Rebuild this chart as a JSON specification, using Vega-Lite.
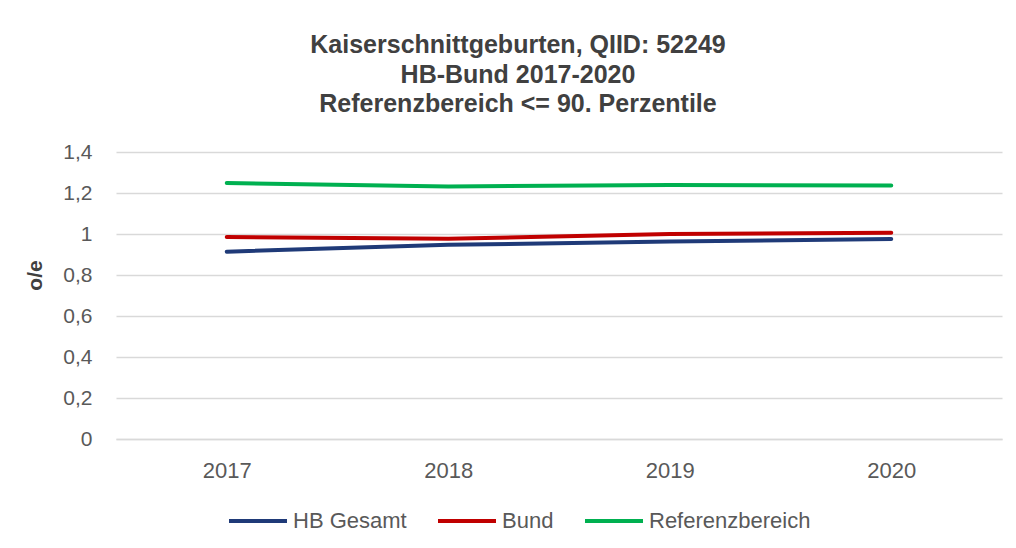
{
  "$schema": "https://vega.github.io/schema/vega-lite/v6.json",
  "autosize": {"type": "none"},
  "padding": {"left": 116, "top": 152, "right": 14, "bottom": 109},
  "width": 886,
  "height": 287,
  "background": "white",
  "config": {"view": {"stroke": null}},
  "title": {
    "text": ["Kaiserschnittgeburten, QIID: 52249", "HB-Bund 2017-2020", "Referenzbereich <= 90. Perzentile"],
    "font": "Liberation Sans",
    "fontSize": 25,
    "fontWeight": "bold",
    "color": "#404040",
    "lineHeight": 29.5,
    "anchor": "middle",
    "dx": -41,
    "offset": 24
  },
  "data": {
    "values": [
      {"year": "2017", "series": "HB Gesamt", "value": 0.914},
      {"year": "2018", "series": "HB Gesamt", "value": 0.947},
      {"year": "2019", "series": "HB Gesamt", "value": 0.963},
      {"year": "2020", "series": "HB Gesamt", "value": 0.976},
      {"year": "2017", "series": "Bund", "value": 0.985},
      {"year": "2018", "series": "Bund", "value": 0.977},
      {"year": "2019", "series": "Bund", "value": 1.0},
      {"year": "2020", "series": "Bund", "value": 1.006},
      {"year": "2017", "series": "Referenzbereich", "value": 1.249},
      {"year": "2018", "series": "Referenzbereich", "value": 1.232},
      {"year": "2019", "series": "Referenzbereich", "value": 1.239},
      {"year": "2020", "series": "Referenzbereich", "value": 1.237}
    ]
  },
  "mark": {"type": "line", "strokeWidth": 4, "strokeCap": "round"},
  "encoding": {
    "x": {
      "field": "year",
      "type": "ordinal",
      "scale": {"type": "point", "padding": 0.5},
      "axis": {
        "title": null,
        "labelAngle": 0,
        "ticks": false,
        "grid": false,
        "domain": true,
        "domainColor": "#d9d9d9",
        "domainWidth": 1.5,
        "labelFont": "Liberation Sans",
        "labelFontSize": 22,
        "labelColor": "#595959",
        "labelPadding": 21
      }
    },
    "y": {
      "field": "value",
      "type": "quantitative",
      "scale": {"domain": [0, 1.4], "nice": false},
      "axis": {
        "title": "o/e",
        "titleFont": "Liberation Sans",
        "titleFontSize": 21,
        "titleFontWeight": "bold",
        "titleColor": "#404040",
        "titleAngle": 270,
        "titleAlign": "center",
        "titleBaseline": "middle",
        "titleX": -81,
        "titleY": 123,
        "values": [0, 0.2, 0.4, 0.6, 0.8, 1, 1.2, 1.4],
        "labelExpr": "replace(format(datum.value, '.1~f'), '.', ',')",
        "ticks": false,
        "domain": false,
        "grid": true,
        "gridColor": "#d9d9d9",
        "gridWidth": 1.5,
        "labelFont": "Liberation Sans",
        "labelFontSize": 21,
        "labelColor": "#595959",
        "labelPadding": 24
      }
    },
    "color": {
      "field": "series",
      "type": "nominal",
      "scale": {
        "domain": ["HB Gesamt", "Bund", "Referenzbereich"],
        "range": ["#1f3a78", "#c00000", "#00b050"]
      },
      "legend": {
        "title": null,
        "orient": "none",
        "direction": "horizontal",
        "legendX": 111,
        "legendY": 338,
        "symbolType": "stroke",
        "symbolSize": 3364,
        "symbolStrokeWidth": 4,
        "labelFont": "Liberation Sans",
        "labelFontSize": 22,
        "labelColor": "#595959",
        "labelOffset": 4,
        "labelLimit": 400,
        "columnPadding": 23
      }
    }
  }
}
